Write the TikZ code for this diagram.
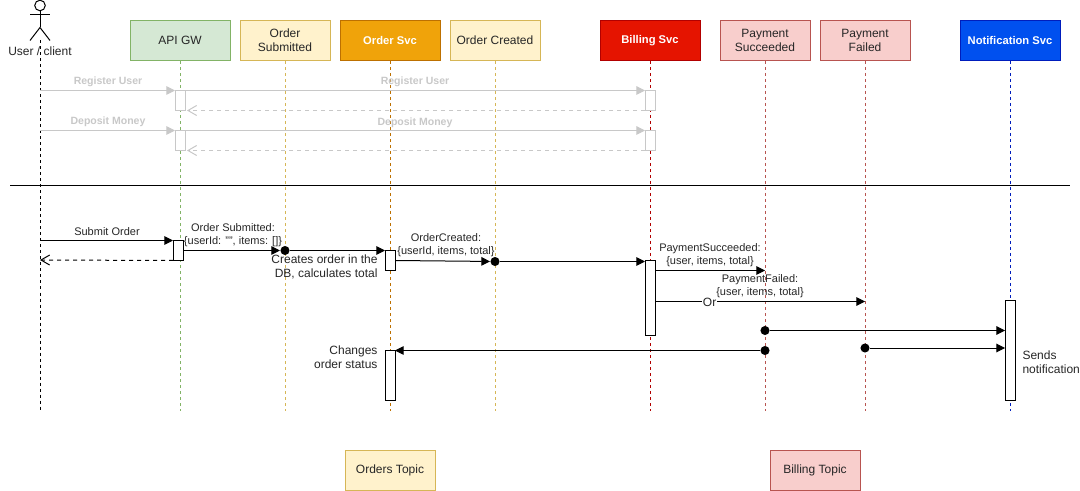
\documentclass[tikz,border=0pt]{standalone}
\usepackage{fontspec}
\setmainfont{Liberation Sans}
\usetikzlibrary{arrows.meta}
\definecolor{gwfill}{HTML}{D5E8D4}
\definecolor{gwline}{HTML}{82B366}
\definecolor{topicfill}{HTML}{FFF2CC}
\definecolor{topicline}{HTML}{D6B656}
\definecolor{ordfill}{HTML}{F0A30A}
\definecolor{ordline}{HTML}{BD7000}
\definecolor{billfill}{HTML}{E51400}
\definecolor{billline}{HTML}{B20000}
\definecolor{payfill}{HTML}{F8CECC}
\definecolor{payline}{HTML}{B85450}
\definecolor{notifill}{HTML}{0050EF}
\definecolor{notiline}{HTML}{001DBC}
\definecolor{faded}{HTML}{C8C8C8}
\begin{document}
\begin{tikzpicture}[x=0.75pt,y=-0.75pt,line width=0.75pt]
    \tikzstyle{box} = [draw,minimum height=30pt,inner sep=0pt,align=center,font=\fontsize{9}{10.5}\selectfont]
    \tikzstyle{svc} = [box,minimum width=75pt,text=white,font=\fontsize{8.4}{10.5}\selectfont\bfseries]
    \tikzstyle{topic} = [box,minimum width=67.5pt,text=black!85]
    \tikzstyle{life} = [dash pattern=on 2.25pt off 2.25pt]
    \tikzstyle{bar} = [draw,fill=white,minimum width=7.5pt,inner sep=0pt,outer sep=0pt,anchor=north]
    \tikzstyle{msg} = [-{Triangle[length=6.5pt,width=6.5pt]}]
    \tikzstyle{back} = [dash pattern=on 3pt off 3pt,-{Straight Barb[length=6.5pt,width=7.5pt]}]
    \tikzstyle{ghost} = [draw=faded]
    \tikzstyle{say} = [align=center,inner sep=0pt,text=black!85,font=\fontsize{8.25}{9.75}\selectfont]
    \tikzstyle{note} = [inner sep=0pt,text=black!85,font=\fontsize{9}{10.5}\selectfont]
    \tikzstyle{greysay} = [inner sep=0pt,text=faded,font=\fontsize{7.9}{9.75}\selectfont\bfseries]
    \tikzstyle{dot} = [circle,fill=black,minimum size=6.8pt,inner sep=0pt]

    \useasboundingbox (0,-0.5) rectangle (1080,490.5);

    % headers
    \node[box,minimum width=75pt,fill=gwfill,draw=gwline,text=black!85] (apigw) at (180,40) {API GW};
    \node[topic,fill=topicfill,draw=topicline] (submitted) at (285,40) {Order\\Submitted};
    \node[svc,fill=ordfill,draw=ordline] (ordersvc) at (390,40) {Order Svc};
    \node[topic,fill=topicfill,draw=topicline] (created) at (495,40) {Order Created};
    \node[svc,fill=billfill,draw=billline] (billsvc) at (650,40) {Billing Svc};
    \node[topic,fill=payfill,draw=payline] (succeeded) at (765,40) {Payment\\Succeeded};
    \node[topic,fill=payfill,draw=payline] (failed) at (865,40) {Payment\\Failed};
    \node[svc,fill=notifill,draw=notiline] (notisvc) at (1010,40) {Notification Svc};

    \node[topic,fill=topicfill,draw=topicline] (orderstopic) at (390,470) {Orders Topic};
    \node[topic,fill=payfill,draw=payline] (billingtopic) at (815,470) {Billing Topic};

    % actor
    \node[note] (user) at (40,50.5) {User / client};
    \draw (40,5) circle (5.3);
    \draw (40,10.3) -- (40,27);
    \draw (30,14) -- (50,14);
    \draw (30,40) -- (40,27) -- (50,40);

    % lifelines
    \coordinate (userhip) at (40,40);
    \coordinate (lifeend) at (0,410);
    \draw[life] (userhip) -- (userhip |- lifeend);
    \draw[life,gwline] (apigw) -- (apigw |- lifeend);
    \draw[life,topicline] (submitted) -- (submitted |- lifeend);
    \draw[life,ordline] (ordersvc) -- (ordersvc |- lifeend);
    \draw[life,topicline] (created) -- (created |- lifeend);
    \draw[life,billline] (billsvc) -- (billsvc |- lifeend);
    \draw[life,payline] (succeeded) -- (succeeded |- lifeend);
    \draw[life,payline] (failed) -- (failed |- lifeend);
    \draw[life,notiline] (notisvc) -- (notisvc |- lifeend);

    % old calls, greyed out
    \node[bar,ghost,minimum height=15pt] (gwreg) at (180,90) {};
    \node[bar,ghost,minimum height=15pt] (billreg) at (650,90) {};
    \node[bar,ghost,minimum height=15pt] (gwdep) at (180,130) {};
    \node[bar,ghost,minimum height=15pt] (billdep) at (650,130) {};

    \coordinate (regfrom) at (40,90);
    \coordinate (depfrom) at (40,130);
    \draw[msg,faded] (regfrom) -- (gwreg.north west);
    \draw[msg,faded] (gwreg.north east) -- (billreg.north west);
    \draw[back,faded] (billreg.south west) -- ([xshift=1.5pt]gwreg.south east);
    \draw[msg,faded] (depfrom) -- (gwdep.north west);
    \draw[msg,faded] (gwdep.north east) -- (billdep.north west);
    \draw[back,faded] (billdep.south west) -- ([xshift=1.5pt]gwdep.south east);

    \node[greysay] (reglabela) at (108,81.5) {Register User};
    \node[greysay] (reglabelb) at (415,81.5) {Register User};
    \node[greysay] (deplabela) at (108,121.5) {Deposit Money};
    \node[greysay] (deplabelb) at (415,122.5) {Deposit Money};

    % separator
    \coordinate (sepl) at (10,185);
    \coordinate (sepr) at (1070,185);
    \draw (sepl) -- (sepr);

    % activation bars
    \node[bar,minimum height=15pt] (gwbar) at (178,240) {};
    \node[bar,minimum height=15pt] (ordbar) at (390,250) {};
    \node[bar,minimum height=37.5pt] (statusbar) at (390,350) {};
    \node[bar,minimum height=56.25pt] (billbar) at (650,260) {};
    \node[bar,minimum height=75pt] (notibar) at (1010,300) {};

    % dots on the topics
    \node[dot] (subdot) at (285,250) {};
    \node[dot] (credot) at (495,261) {};
    \node[dot] (sucdota) at (765,330) {};
    \node[dot] (sucdotb) at (765,350) {};
    \node[dot] (faidot) at (865,347.5) {};

    % order flow
    \coordinate (subfrom) at (40,240);
    \coordinate (subback) at (40,259.5);
    \coordinate (sucend) at (765,270);
    \coordinate (faiend) at (865,301);
    \draw[msg] (subfrom) -- (gwbar.north west);
    \draw[back] (gwbar.south west) -- (subback);
    \draw[msg] (gwbar.east) -- (subdot);
    \draw[msg] (subdot) -- (subdot -| ordbar.west);
    \draw[msg] (ordbar.east) -- (credot);
    \draw[msg] (credot) -- (credot -| billbar.west);
    \draw[msg] (billbar.east |- sucend) -- (sucend);
    \draw[msg] (billbar.east |- faiend) -- node[pos=0.26,yshift=-1pt,fill=white,inner sep=0.5pt,text=black!85,font=\fontsize{9}{10.5}\selectfont] (orlabel) {Or} (faiend);
    \draw[msg] (sucdota) -- (sucdota -| notibar.west);
    \draw[msg] (faidot) -- (faidot -| notibar.west);
    \draw[msg] (sucdotb) -- (sucdotb -| statusbar.east);

    % labels
    \node[say] (submitlabel) at (107,231.5) {Submit Order};
    \node[say] (sublabel) at (233,235) {Order Submitted:\\\{userId: "", items: []\}};
    \node[say] (crelabel) at (446,245) {OrderCreated:\\\{userId, items, total\}};
    \node[say] (suclabel) at (710,255) {PaymentSucceeded:\\\{user, items, total\}};
    \node[say] (failabel) at (760,286) {PaymentFailed:\\\{user, items, total\}};

    \node[note,align=right,anchor=east] (dbnote) at (378,266.5) {Creates order in the\\DB, calculates total};
    \node[note,align=right,anchor=east] (statusnote) at (378,356.5) {Changes\\order status};
    \node[note,align=left,anchor=west] (sendnote) at (1022,361.5) {Sends\\notification};
\end{tikzpicture}
\end{document}
